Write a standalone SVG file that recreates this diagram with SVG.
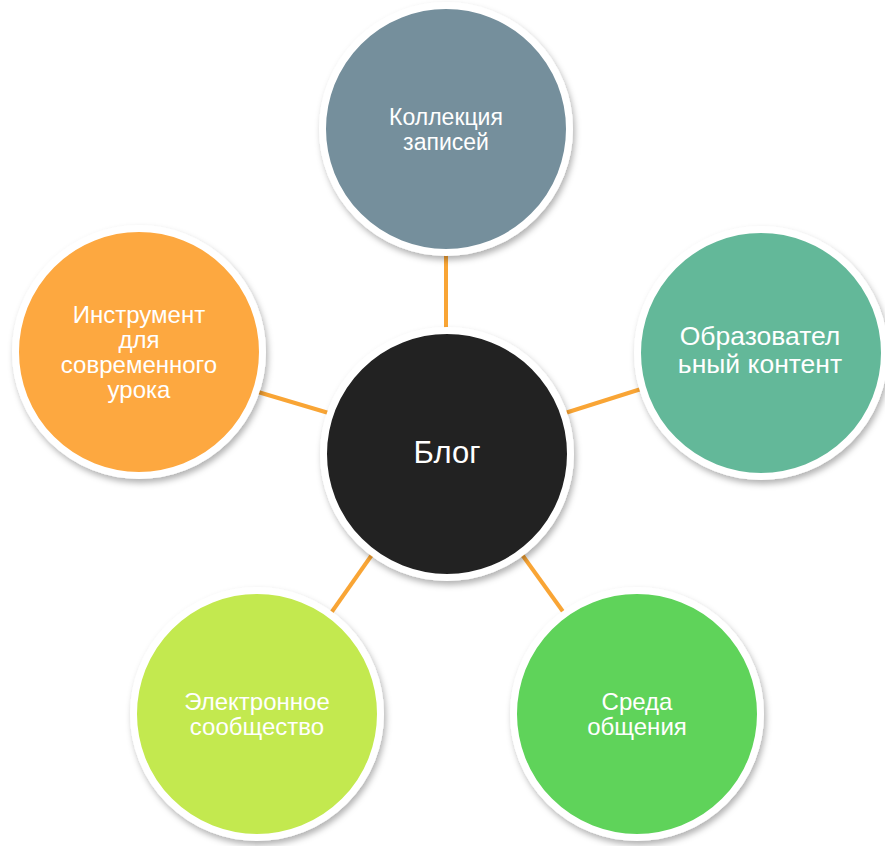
<svg xmlns="http://www.w3.org/2000/svg" width="885" height="846" viewBox="0 0 885 846">
  <defs>
    <filter id="sh" x="-20%" y="-20%" width="140%" height="140%">
      <feDropShadow dx="2" dy="4" stdDeviation="3" flood-color="#000" flood-opacity="0.3"/>
    </filter>
  </defs>
  <style>
    .ring { stroke: #ffffff; stroke-width: 7; filter: url(#sh); }
    .conn { stroke: #F9A535; stroke-width: 4; fill: none; }
    .t { fill: #ffffff; font-family: "Liberation Sans", Arial, sans-serif; text-anchor: middle; }
  </style>
  <rect width="885" height="846" fill="#ffffff"/>
  <g id="connectors">
    <line class="conn" x1="446" y1="250" x2="446" y2="334"/>
    <line class="conn" x1="258" y1="392" x2="332" y2="414"/>
    <line class="conn" x1="562" y1="414" x2="641" y2="389"/>
    <line class="conn" x1="376" y1="549" x2="331" y2="613"/>
    <line class="conn" x1="518" y1="549" x2="564" y2="613"/>
  </g>
  <g id="node-top">
    <circle class="ring" cx="446" cy="129" r="123.5" fill="#758F9C"/>
    <text class="t" x="446" y="125" font-size="23">Коллекция</text>
    <text class="t" x="446" y="150" font-size="23">записей</text>
  </g>
  <g id="node-left">
    <circle class="ring" cx="139" cy="352" r="123.5" fill="#FDA840"/>
    <text class="t" x="139" y="323" font-size="24">Инструмент</text>
    <text class="t" x="139" y="348" font-size="24">для</text>
    <text class="t" x="139" y="373" font-size="24">современного</text>
    <text class="t" x="139" y="398" font-size="24">урока</text>
  </g>
  <g id="node-right">
    <circle class="ring" cx="761" cy="353" r="123.5" fill="#64B899"/>
    <text class="t" x="760" y="345" font-size="26.5">Образовател</text>
    <text class="t" x="760" y="373" font-size="26.5">ьный контент</text>
  </g>
  <g id="node-center">
    <circle class="ring" cx="447" cy="454" r="123.5" fill="#222222"/>
    <text class="t" x="447" y="463" font-size="31">Блог</text>
  </g>
  <g id="node-bottom-left">
    <circle class="ring" cx="257" cy="714" r="123.5" fill="#C3E94F"/>
    <text class="t" x="257" y="710" font-size="24">Электронное</text>
    <text class="t" x="257" y="735" font-size="24">сообщество</text>
  </g>
  <g id="node-bottom-right">
    <circle class="ring" cx="637" cy="714" r="123.5" fill="#5ED35A"/>
    <text class="t" x="637" y="710" font-size="24">Среда</text>
    <text class="t" x="637" y="735" font-size="24">общения</text>
  </g>
</svg>
